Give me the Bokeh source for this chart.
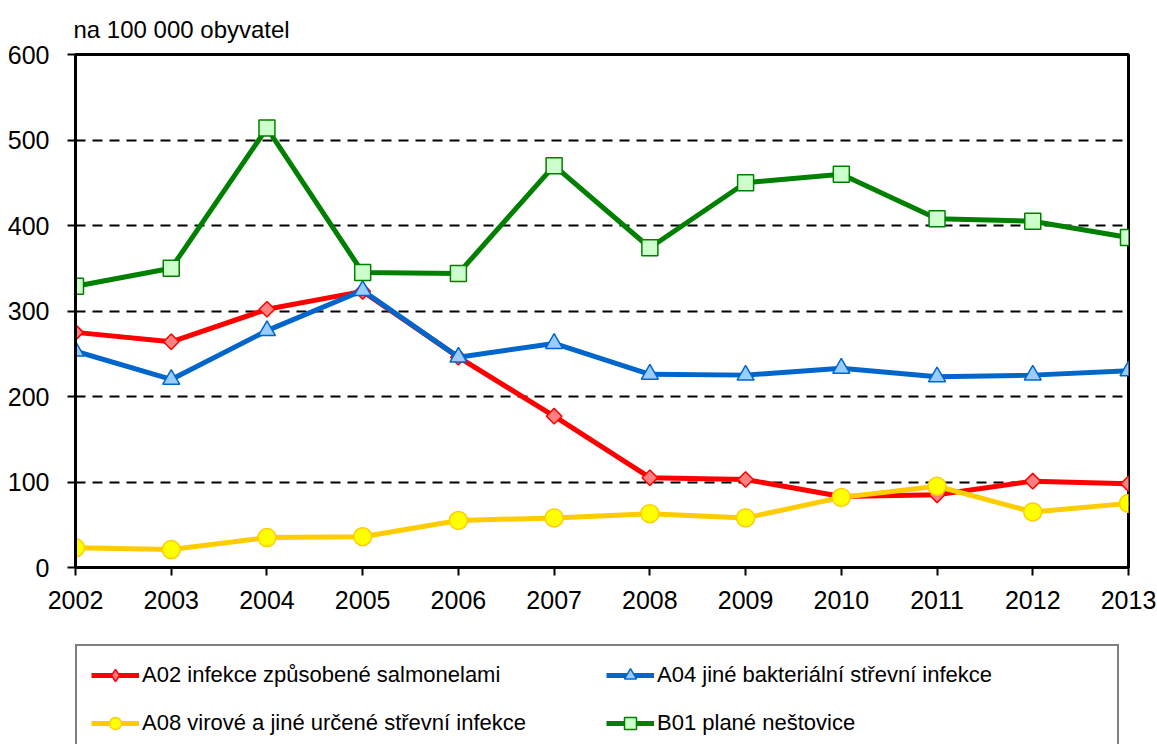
from bokeh.plotting import figure
from bokeh.layouts import column
from bokeh.models import Range1d, FixedTicker, Legend, LegendItem
from bokeh.embed import file_html
from bokeh.resources import INLINE

years = [2002, 2003, 2004, 2005, 2006, 2007, 2008, 2009, 2010, 2011, 2012, 2013]
a02 = [275, 264, 302, 323, 246, 177, 105, 103, 83, 85, 101, 98]
a04 = [253, 220, 277, 324, 246, 262, 226, 225, 233, 223, 225, 230]
a08 = [23, 21, 35, 36, 55, 58, 63, 58, 82, 95, 65, 75]
b01 = [329, 350, 514, 345, 344, 470, 374, 450, 460, 408, 405, 386]

labels = ["A02 infekce způsobené salmonelami",
          "A04 jiné bakteriální střevní infekce",
          "A08 virové a jiné určené střevní infekce",
          "B01 plané neštovice"]
y_ticks = [0, 100, 200, 300, 400, 500, 600]
unit_label = "na 100 000 obyvatel"

FONT = "Liberation Sans"

p = figure(width=1157, height=640, output_backend="svg", toolbar_location=None,
           x_range=Range1d(2002, 2013), y_range=Range1d(0, 600),
           min_border_left=75, min_border_right=29, min_border_top=54,
           min_border_bottom=73, title=unit_label)
p.background_fill_color = "white"
p.border_fill_color = "white"
p.outline_line_color = "black"
p.outline_line_width = 3

p.title.text_font = FONT
p.title.text_font_size = "24px"
p.title.text_font_style = "normal"
p.title.text_color = "black"
p.title.align = "left"
p.title.offset = -2
p.title.standoff = 24

for ax in (p.xaxis[0], p.yaxis[0]):
    ax.axis_line_color = "black"
    ax.axis_line_width = 3
    ax.major_tick_line_color = "black"
    ax.major_tick_line_width = 2
    ax.major_tick_out = 8
    ax.major_tick_in = 0
    ax.minor_tick_line_color = None
    ax.major_label_text_font = FONT
    ax.major_label_text_font_size = "25px"
    ax.major_label_text_color = "black"
p.xaxis.ticker = FixedTicker(ticks=years)
p.yaxis.ticker = FixedTicker(ticks=y_ticks)
p.xaxis.major_label_standoff = 15
p.yaxis.major_label_standoff = 18

p.xgrid.grid_line_color = None
p.ygrid.ticker = FixedTicker(ticks=y_ticks[1:-1])
p.ygrid.grid_line_color = "black"
p.ygrid.grid_line_width = 2
p.ygrid.grid_line_dash = "10 7"

series = [
    (a02, "#FF0000", "square", 0.785398, "diamond", "#FF8080", "#FF0000", 11),
    (a04, "#0066CC", "triangle", 0.0, "triangle", "#99CCFF", "#0066CC", 17),
    (a08, "#FFCC00", "circle", 0.0, "circle", "#FFFF00", "#FFCC00", 18),
    (b01, "#008000", "square", 0.0, "square", "#CCFFCC", "#008000", 16),
]

# legend panel: a second figure whose frame is the legend area
q = figure(width=1157, height=104, output_backend="svg", toolbar_location=None,
           x_range=Range1d(0, 1), y_range=Range1d(0, 1),
           x_axis_location=None, y_axis_location=None,
           min_border_left=75, min_border_right=29, min_border_top=0,
           min_border_bottom=0)
q.grid.visible = False
q.outline_line_color = None
q.background_fill_color = "white"
q.border_fill_color = "white"

items = []
for (vals, lc, mk, ang, lmk, fc, mc, ms), lab in zip(series, labels):
    p.line(years, vals, line_color=lc, line_width=5)
    p.scatter(years, vals, marker=mk, angle=ang, size=ms, fill_color=fc,
              line_color=mc, line_width=1.5)
    # off-range twins drawn only in the legend
    l1 = q.line([-10, -9], [-10, -9], line_color=lc, line_width=5)
    l2 = q.scatter([-10], [-10], marker=lmk, size=ms, fill_color=fc,
                   line_color=mc, line_width=1.5)
    items.append(LegendItem(label=lab, renderers=[l1, l2]))

# column-major fill: col 1 = A02, A08 ; col 2 = A04, B01
ordered = [items[0], items[2], items[1], items[3]]
legend = Legend(items=ordered, ncols=2, location=(0, -10), margin=0,
                glyph_width=48, glyph_height=30, label_standoff=3,
                label_height=30, label_width=446, spacing=18, padding=14,
                border_line_color="black", border_line_width=2,
                background_fill_color="white", background_fill_alpha=1,
                label_text_font=FONT, label_text_font_size="22px",
                label_text_color="black")
q.add_layout(legend, "center")

open("out.html", "w").write(file_html(column(p, q, spacing=0), INLINE))
